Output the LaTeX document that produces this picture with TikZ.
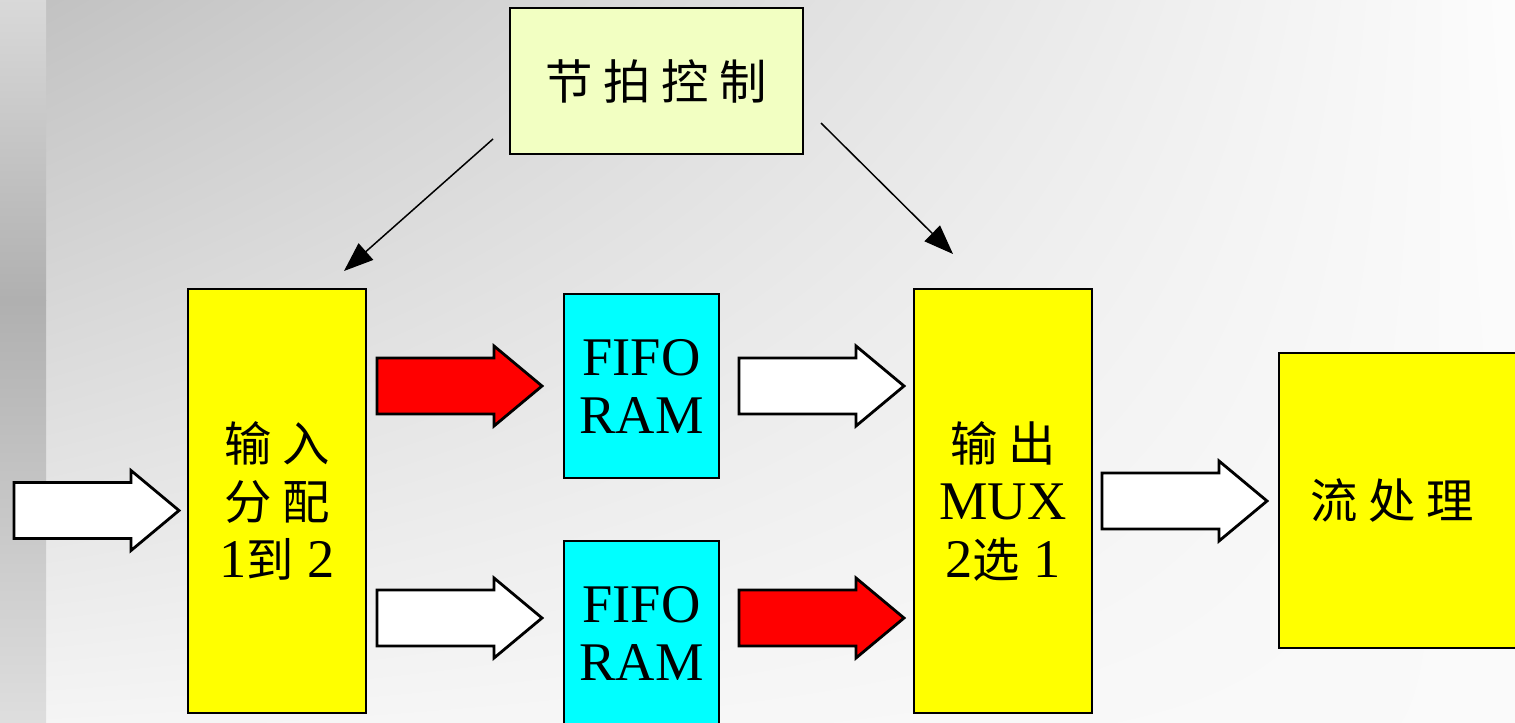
\documentclass[tikz,border=0pt]{standalone}
\usepackage{fontspec}
\setmainfont{Liberation Serif}
\newfontfamily\zh[Scale=0.87]{Noto Sans CJK SC}
\usetikzlibrary{arrows.meta,shadings}
\definecolor{paleyellow}{RGB}{242,255,194}
\definecolor{boxyellow}{RGB}{255,255,0}
\definecolor{boxcyan}{RGB}{0,255,255}
\definecolor{arrowred}{RGB}{255,0,0}
\newcommand{\fatarrow}[3]{%
\draw[fatline, fill=#3] (#1,#2-28) -- (#1+117,#2-28) -- (#1+117,#2-40) -- (#1+165,#2) -- (#1+117,#2+40) -- (#1+117,#2+28) -- (#1,#2+28) -- cycle;}
\begin{document}
\begin{tikzpicture}[x=0.02cm, y=-0.02cm,
  box/.style={draw, line width=1.2pt, inner sep=0pt},
  big/.style={font=\fontsize{31pt}{33pt}\selectfont, align=center},
  fatline/.style={draw, line width=1.6pt, line join=miter},
  ctl/.style={line width=0.85pt, -{Triangle[length=16.7pt, width=12.5pt]}}]
\useasboundingbox (0,0) rectangle (1515,723);
\shade[upper left=black!24, lower left=black!4, upper right=black!1, lower right=black!2] (46,0) rectangle (1515,723);
\shade[top color=black!15, bottom color=black!31] (0,0) rectangle (46,300);
\shade[top color=black!31, bottom color=black!13] (0,300) rectangle (46,723);

\node[box, fill=paleyellow, minimum width=5.86cm, minimum height=2.92cm, big] (ctrl) at (656.5,81) {\zh 节 拍 控 制};
\node[box, fill=boxyellow, minimum width=3.56cm, minimum height=8.48cm, big] (dist) at (277,501) {{\zh 输 入}\\{\zh 分 配}\\1{\zh 到} 2};
\node[box, fill=boxcyan, minimum width=3.1cm, minimum height=3.68cm, big] (fifoA) at (641.5,386) {FIFO\\RAM};
\node[box, fill=boxcyan, minimum width=3.1cm, minimum height=3.68cm, big] (fifoB) at (641.5,633) {FIFO\\RAM};
\node[box, fill=boxyellow, minimum width=3.56cm, minimum height=8.48cm, big] (mux) at (1003,501) {{\zh 输 出}\\MUX\\2{\zh 选} 1};
\node[box, fill=boxyellow, minimum width=5.02cm, minimum height=5.9cm, big] (proc) at (1404.5,500.5) {{\zh 流 处 理}\hspace*{0.5cm}};

\fatarrow{14}{510.5}{white}
\fatarrow{377}{386}{arrowred}
\fatarrow{377}{618}{white}
\fatarrow{739}{386}{white}
\fatarrow{739}{618}{arrowred}
\fatarrow{1102}{501}{white}

\coordinate (c1) at (493,139);
\coordinate (t1) at (344,271);
\coordinate (c2) at (821,123);
\coordinate (t2) at (953,254);
\draw[ctl] (c1) -- (t1);
\draw[ctl] (c2) -- (t2);

\end{tikzpicture}
\end{document}
